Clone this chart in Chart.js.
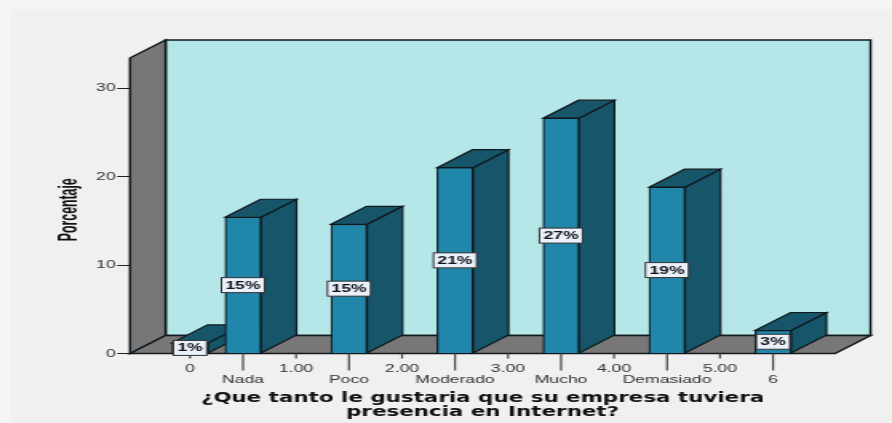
<!DOCTYPE html>
<html><head><meta charset="utf-8">
<style>
html,body{margin:0;padding:0;background:#f0f0f0;width:892px;height:423px;overflow:hidden}
#wrap{position:absolute;left:0;top:0;width:558px;height:423px;transform-origin:0 0;transform:scaleX(1.5986);filter:blur(0.3px)}
</style>
<script src="https://cdn.jsdelivr.net/npm/chart.js@4"></script>
</head><body>
<div id="wrap"><canvas id="c" width="558" height="423"></canvas></div>
<script>
const categories=['0','Nada','1.00','Poco','2.00','Moderado','3.00','Mucho','4.00','Demasiado','5.00','6'];
const values=[1.2,15.4,null,14.6,null,21.0,null,26.6,null,18.8,null,2.6];
const barLabels=['1%','15%',null,'15%',null,'21%',null,'27%',null,'19%',null,'3%'];
const yTicks=[0,10,20,30];
const xTitle=['¿Que tanto le gustaria que su empresa tuviera','presencia en Internet?'];
const yTitle='Porcentaje';
const S=892/558, DX=35.5/S, DY=18;
const FRONT='#2087ab',DARK='#17556a',LINE='#10181c',WALL='#b5e7e8',GREY='#777777';
function poly(ctx,pts,fill,lw){ctx.beginPath();pts.forEach((p,i)=>i?ctx.lineTo(p[0],p[1]):ctx.moveTo(p[0],p[1]));ctx.closePath();ctx.fillStyle=fill;ctx.fill();ctx.strokeStyle=LINE;ctx.lineWidth=lw||1.2;ctx.stroke();}
const box3d={id:'box3d',
 beforeDraw(chart){const{ctx,chartArea:a}=chart;const{left:l,right:r,top:t,bottom:b}=a;
  ctx.save();
  ctx.fillStyle='#f5f5f5';ctx.fillRect(0,0,chart.width,chart.height);
  ctx.fillStyle='#f0f0f0';ctx.fillRect(11/S,9,chart.width,chart.height);
  poly(ctx,[[l+DX,t-DY],[r+DX,t-DY],[r+DX,b-DY],[l+DX,b-DY]],WALL,1.5);
  poly(ctx,[[l,t],[l+DX,t-DY],[l+DX,b-DY],[l,b]],GREY,1.5);
  poly(ctx,[[l,b],[l+DX,b-DY],[r+DX,b-DY],[r,b]],GREY,1.5);
  const xs=chart.scales.x;
  categories.forEach((c,i)=>{const x=xs.getPixelForValue(i);ctx.beginPath();ctx.moveTo(x,b);ctx.lineTo(x,b+(i%2?17:5));ctx.strokeStyle='#444';ctx.lineWidth=1.2;ctx.stroke();});
  ctx.translate(77/S,(a.top+a.bottom)/2+4);ctx.rotate(-Math.PI/2);ctx.scale(1,1.4);
  ctx.font='bold 12.3px "Liberation Sans"';ctx.textAlign='center';ctx.textBaseline='alphabetic';ctx.fillStyle='#111';
  ctx.fillText(yTitle,0,0);
  ctx.restore();},
 beforeDatasetsDraw(chart){const{ctx}=chart;ctx.save();
  chart.getDatasetMeta(0).data.forEach((bar,i)=>{if(values[i]==null)return;
   const{x,y,base,width}=bar.getProps(['x','y','base','width'],true);const L=x-width/2,R=x+width/2;
   poly(ctx,[[R,y],[R+DX,y-DY],[R+DX,base-DY],[R,base]],DARK);
   poly(ctx,[[L,y],[L+DX,y-DY],[R+DX,y-DY],[R,y]],DARK);
  });ctx.restore();},
 afterDatasetsDraw(chart){const{ctx}=chart;ctx.save();
  ctx.font='bold 11px "Liberation Sans"';ctx.textAlign='center';ctx.textBaseline='middle';
  chart.getDatasetMeta(0).data.forEach((bar,i)=>{if(barLabels[i]==null)return;
   const{x,y,base}=bar.getProps(['x','y','base'],true);const cy=(y+base)/2;
   const w=ctx.measureText(barLabels[i]).width+5,h=15;
   ctx.fillStyle='#eaf1fb';ctx.strokeStyle='#333';ctx.lineWidth=1;
   ctx.fillRect(x-w/2,cy-h/2,w,h);ctx.strokeRect(x-w/2,cy-h/2,w,h);
   ctx.fillStyle='#111';ctx.fillText(barLabels[i],x,cy+.5);
  });ctx.restore();}
};
new Chart(document.getElementById('c'),{
 type:'bar',
 data:{datasets:[{data:categories.map((c,i)=>({x:i,y:values[i]})),backgroundColor:FRONT,borderColor:LINE,borderWidth:1.2,barThickness:36/S}]},
 plugins:[box3d],
 options:{responsive:false,animation:false,devicePixelRatio:1,
  layout:{padding:{left:0,right:57/S,top:58,bottom:0}},
  plugins:{legend:{display:false},tooltip:{enabled:false},title:{display:false}},
  scales:{
   x:{type:'linear',offset:false,min:-60/53,max:645/53,
    afterBuildTicks(s){s.ticks=categories.map((c,i)=>({value:i}));},
    afterFit(s){s.height=69.5;},
    border:{display:false},grid:{display:false},
    ticks:{autoSkip:false,maxRotation:0,minRotation:0,padding:2,color:'#333',
     font:{family:'Liberation Sans',size:11,lineHeight:1},
     callback(v){return v%2?['',categories[v]]:[categories[v]];}},
    title:{display:true,text:xTitle,color:'#111',padding:{top:0,bottom:4},font:{family:'DejaVu Sans',size:13.4,weight:'bold',lineHeight:1}}},
   y:{min:0,max:33.4,
    afterBuildTicks(s){s.ticks=yTicks.map(v=>({value:v}));},
    afterFit(s){s.width=130/S;},
    border:{display:false},
    grid:{drawOnChartArea:false,tickLength:8,tickColor:'#222'},
    ticks:{padding:1,color:'#333',font:{family:'Liberation Sans',size:11}}}
  }}
});
</script></body></html>
